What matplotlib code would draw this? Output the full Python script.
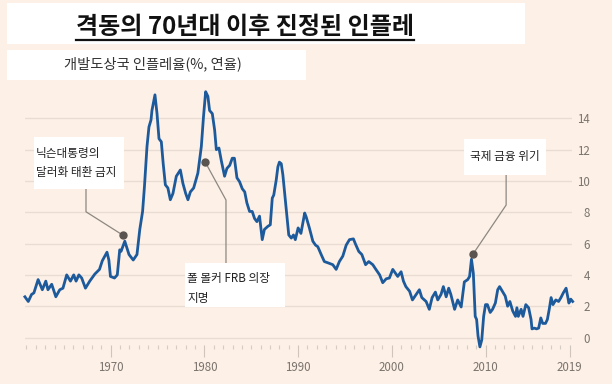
import matplotlib
matplotlib.use("Agg")
import matplotlib.pyplot as plt
from matplotlib.patches import Rectangle
from matplotlib.lines import Line2D

plt.rcParams["font.family"] = ["Noto Sans CJK KR", "DejaVu Sans"]

BG = "#FDF0E6"
LINE_COLOR = "#1D5A9C"
GRID_COLOR = "#E9DDD3"
TICK_COLOR = "#7A736E"
NOTE_LINE = "#8E8782"
DOT_COLOR = "#5B5551"

TITLE = "격동의 70년대 이후 진정된 인플레"
SUBTITLE = "개발도상국 인플레율(%, 연율)"

# inflation, developing economies (% yoy)
years = [
    1960.84, 1961.2, 1961.55, 1961.8, 1962.25, 1962.7, 1963.07, 1963.3, 1963.7,
    1964.14, 1964.56, 1964.9, 1965.3, 1965.7, 1966.05, 1966.3, 1966.6, 1966.9,
    1967.3, 1967.76, 1968.3, 1968.8, 1969.1, 1969.6, 1969.8, 1969.97, 1970.4,
    1970.7, 1970.96, 1971.1, 1971.5, 1971.95, 1972.4, 1972.8, 1973.1, 1973.4,
    1973.6, 1973.87, 1974.08, 1974.3, 1974.4, 1974.72, 1974.94, 1975.15,
    1975.4, 1975.6, 1975.83, 1976.1, 1976.36, 1976.64, 1977.0, 1977.43,
    1977.7, 1978.0, 1978.24, 1978.5, 1978.85, 1979.3, 1979.67, 1979.9,
    1980.13, 1980.37, 1980.55, 1980.84, 1981.09, 1981.27, 1981.55, 1981.8,
    1982.15, 1982.4, 1982.7, 1982.97, 1983.2, 1983.47, 1983.75, 1984.04,
    1984.3, 1984.53, 1984.82, 1985.1, 1985.35, 1985.6, 1985.88, 1986.17,
    1986.4, 1986.77, 1987.03, 1987.24, 1987.4, 1987.66, 1987.84, 1988.0,
    1988.2, 1988.37, 1988.6, 1988.84, 1989.0, 1989.27, 1989.5, 1989.7,
    1990.0, 1990.3, 1990.7, 1990.86, 1991.2, 1991.57, 1991.86, 1992.1,
    1992.46, 1992.8, 1993.27, 1993.7, 1994.06, 1994.4, 1994.77, 1995.13,
    1995.48, 1995.9, 1996.1, 1996.47, 1996.8, 1997.2, 1997.54, 1997.97,
    1998.3, 1998.7, 1999.03, 1999.4, 1999.74, 2000.1, 2000.4, 2000.63,
    2000.99, 2001.24, 2001.5, 2001.9, 2002.2, 2002.6, 2002.94, 2003.2,
    2003.66, 2004.0, 2004.3, 2004.65, 2004.9, 2005.25, 2005.5, 2005.8,
    2006.07, 2006.3, 2006.7, 2007.03, 2007.4, 2007.74, 2008.1, 2008.3,
    2008.5, 2008.7, 2008.9, 2009.05, 2009.2, 2009.4, 2009.6, 2009.8,
    2010.0, 2010.2, 2010.5, 2010.75, 2011.05, 2011.3, 2011.5, 2011.8,
    2012.1, 2012.36, 2012.6, 2012.9, 2013.2, 2013.35, 2013.5, 2013.8,
    2014.0, 2014.3, 2014.6, 2014.86, 2014.96, 2015.2, 2015.45, 2015.67,
    2015.9, 2016.1, 2016.4, 2016.6, 2016.8, 2017.0, 2017.2, 2017.5,
    2017.8, 2018.05, 2018.3, 2018.6, 2018.9, 2019.1, 2019.3,
]
inflation = [
    2.6, 2.3, 2.75, 2.85, 3.7, 3.05, 3.6, 3.05, 3.4,
    2.6, 3.05, 3.15, 4.0, 3.6, 4.0, 3.6, 4.0, 3.8,
    3.15, 3.6, 4.05, 4.35, 4.9, 5.45, 4.95, 3.9, 3.8,
    4.0, 5.6, 5.5, 6.15, 5.3, 4.95, 5.3, 6.9, 8.05,
    9.65, 12.2, 13.45, 13.9, 14.5, 15.5, 14.3, 12.7,
    12.5, 11.1, 9.75, 9.55, 8.8, 9.2, 10.3, 10.7,
    9.85, 9.2, 8.8, 9.3, 9.55, 10.5, 12.2, 14.1,
    15.7, 15.4, 14.5, 14.3, 13.25, 12.0, 12.1, 11.3,
    10.3, 10.8, 11.0, 11.45, 11.45, 10.2, 9.95, 9.5,
    9.3, 8.6, 8.05, 8.05, 7.6, 7.4, 7.75, 6.25,
    6.9, 7.1, 7.2, 8.9, 9.1, 10.05, 10.9, 11.2,
    11.1, 10.4, 9.0, 7.5, 6.55, 6.35, 6.55, 6.25,
    7.0, 6.65, 7.95, 7.7, 7.0, 6.15, 5.9, 5.8,
    5.3, 4.85, 4.75, 4.65, 4.35, 4.85, 5.2, 5.9,
    6.25, 6.3, 6.0, 5.5, 5.3, 4.65, 4.85, 4.65,
    4.35, 4.0, 3.5, 3.75, 3.8, 4.35, 4.1, 3.9,
    4.2, 3.6, 3.25, 2.95, 2.4, 2.75, 3.05, 2.55,
    2.3, 1.8, 2.55, 2.9, 2.4, 2.75, 3.25, 2.6,
    3.15, 2.75, 1.8, 2.4, 1.95, 3.55, 3.7, 3.9,
    5.0, 4.1, 1.35, 1.15, 0.1, -0.6, -0.15, 1.35,
    2.1, 2.1, 1.6, 1.8, 2.2, 3.05, 3.25, 2.95,
    2.65, 2.0, 2.3, 1.7, 1.35, 1.9, 1.35, 1.8,
    1.35, 2.1, 1.9, 1.15, 0.55, 0.6, 0.55, 0.6,
    1.25, 0.9, 0.9, 1.15, 1.8, 2.55, 2.1, 2.4,
    2.3, 2.55, 2.85, 3.15, 2.2, 2.45, 2.3,
]

y_ticks = [0, 2, 4, 6, 8, 10, 12, 14]
x_ticks = [1970, 1980, 1990, 2000, 2010, 2019]
x_minor = list(range(1961, 2020))

W, H = 612, 384
fig = plt.figure(figsize=(W / 100, H / 100), dpi=100, facecolor=BG)


def px_rect(x0, y0, x1, y1):
    # white panel given in pixel coords (top-left origin)
    return Rectangle((x0 / W, 1 - y1 / H), (x1 - x0) / W, (y1 - y0) / H,
                     transform=fig.transFigure, facecolor="white",
                     edgecolor="none", zorder=0)


fig.add_artist(px_rect(7, 3, 525, 44))
fig.add_artist(px_rect(7, 50, 306, 80))

title = fig.text(76 / W, 1 - 34 / H, TITLE, fontsize=17.3, fontweight="bold",
                 color="#111111", ha="left", va="baseline")
fig.text(64 / W, 1 - 64 / H, SUBTITLE, fontsize=10.3, color="#333333",
         ha="left", va="center")

# underline under the title
fig.canvas.draw()
bb = title.get_window_extent(fig.canvas.get_renderer())
fig.add_artist(Line2D([bb.x0 / W, bb.x1 / W], [1 - 39.5 / H, 1 - 39.5 / H],
                      transform=fig.transFigure, color="#111111", lw=1.6))

ax = fig.add_axes([25 / W, 1 - 345 / H, 547 / W, (345 - 87) / H])
ax.set_facecolor("none")
ax.set_xlim(1960.85, 2019.23)
ax.set_ylim(-0.479, 16.0)

ax.plot(years, inflation, color=LINE_COLOR, lw=2.0, zorder=3,
        solid_joinstyle="round", clip_on=False)

ax.set_yticks(y_ticks)
ax.grid(axis="y", color=GRID_COLOR, lw=1.0, zorder=0)
ax.yaxis.tick_right()
ax.tick_params(axis="y", length=0, pad=13, labelsize=8.3, labelcolor=TICK_COLOR)
plt.setp(ax.get_yticklabels(), ha="right")

ax.set_xticks(x_ticks)
ax.set_xticks(x_minor, minor=True)
ax.tick_params(axis="x", which="major", direction="out", length=8.6,
               width=0.8, color="#CFC5BD", pad=3, labelsize=8.3,
               labelcolor=TICK_COLOR)
ax.tick_params(axis="x", which="minor", direction="out", length=3,
               width=0.8, color="#D6CCC4")
for s in ax.spines.values():
    s.set_visible(False)


def note_box(x0, x1, y0, y1):
    ax.add_patch(Rectangle((x0, y0), x1 - x0, y1 - y0, facecolor="white",
                           edgecolor="none", zorder=4, clip_on=False))


# Nixon
note_box(1961.8, 1971.4, 9.48, 12.8)
ax.plot([1967.36, 1967.36, 1971.26], [9.48, 8.03, 6.55], color=NOTE_LINE,
        lw=0.9, zorder=2)
ax.plot([1971.26], [6.55], "o", color=DOT_COLOR, ms=5, zorder=5)
ax.text(1962.05, 11.78, "닉슨대통령의", fontsize=8.4, color="#222222",
        va="center", zorder=6)
ax.text(1962.05, 10.57, "달러화 태환 금지", fontsize=8.4, color="#222222",
        va="center", zorder=6)

# Volcker
note_box(1977.93, 1988.6, 1.97, 4.78)
ax.plot([1980.06, 1982.3, 1982.3], [11.23, 8.78, 4.78], color=NOTE_LINE,
        lw=0.9, zorder=2)
ax.plot([1980.06], [11.23], "o", color=DOT_COLOR, ms=5, zorder=5)
ax.text(1978.15, 3.8, "폴 볼커 FRB 의장", fontsize=8.4, color="#222222",
        va="center", zorder=6)
ax.text(1978.15, 2.52, "지명", fontsize=8.4, color="#222222",
        va="center", zorder=6)

# financial crisis
note_box(2007.73, 2016.48, 10.38, 12.68)
ax.plot([2008.67, 2012.2, 2012.2], [5.33, 8.46, 10.38], color=NOTE_LINE,
        lw=0.9, zorder=2)
ax.plot([2008.67], [5.33], "o", color=DOT_COLOR, ms=5, zorder=5)
ax.text(2012.1, 11.53, "국제 금융 위기", fontsize=8.4, color="#222222",
        ha="center", va="center", zorder=6)

fig.savefig("out.png", dpi=100, facecolor=BG)
